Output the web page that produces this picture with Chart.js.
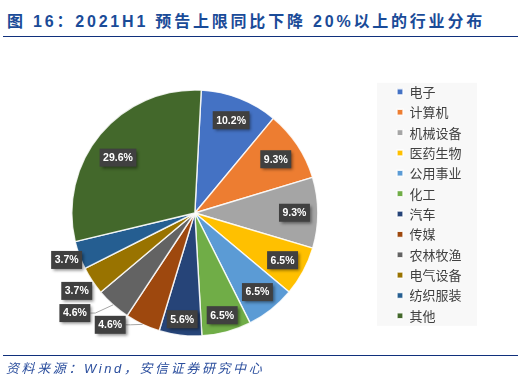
<!DOCTYPE html>
<html>
<head>
<meta charset="utf-8">
<script src="https://cdn.jsdelivr.net/npm/chart.js@4.4.0/dist/chart.umd.min.js"></script>
<style>
  body { margin: 0; background: #fff; }
  #wrap { position: relative; width: 524px; height: 385px; overflow: hidden; }
  #title { position: absolute; left: 7px; top: 8px; line-height: 25px; white-space: nowrap;
    font: bold 16px "Liberation Sans", "Noto Sans CJK SC", sans-serif; letter-spacing: 2.8px; color: #1a4b98; }
  .rule { position: absolute; left: 3px; width: 515px; height: 1.5px; background: #10307c; }
  #src { position: absolute; left: 6px; top: 358px; line-height: 20px; white-space: nowrap;
    font: italic 13px "Liberation Sans", "Noto Sans CJK SC", sans-serif; letter-spacing: 2.6px; color: #2c4f9e; }
  canvas { position: absolute; left: 0; top: 0; }
</style>
</head>
<body>
<div id="wrap">
  <div id="title">图 16：2021H1 预告上限同比下降 20%以上的行业分布</div>
  <div class="rule" style="top:35.5px"></div>
  <canvas id="myChart" width="524" height="385"></canvas>
  <div class="rule" style="top:354.5px"></div>
  <div id="src">资料来源：Wind，安信证券研究中心</div>
</div>
<script>
let industries = ["电子", "计算机", "机械设备", "医药生物", "公用事业", "化工", "汽车", "传媒", "农林牧渔", "电气设备", "纺织服装", "其他"];
let shares = [10.2, 9.3, 9.3, 6.5, 6.5, 6.5, 5.6, 4.6, 4.6, 3.7, 3.7, 29.6];
let sliceColors = ["#4472C4", "#ED7D31", "#A5A5A5", "#FFC000", "#5B9BD5", "#70AD47",
                   "#264478", "#9E480E", "#636363", "#997300", "#255E91", "#43682B"];

// where each value box sits: fraction of the radius, angle shift in degrees, leader line
let labelPlace = [
  {r: 0.81}, {r: 0.79}, {r: 0.81}, {r: 0.81}, {r: 0.82}, {r: 0.86}, {r: 0.87},
  {r: 1.14, da: 12, line: true}, {r: 1.27, da: 8.5, line: true}, {r: 1.15}, {r: 1.11}, {r: 0.77, da: -4}
];

const legendBack = {
  id: 'legendBack',
  beforeDraw(chart) {
    const hb = chart.legend.legendHitBoxes;
    if (!hb || !hb.length) return;
    const c = chart.ctx;
    const first = hb[0], last = hb[hb.length - 1];
    c.save();
    c.fillStyle = '#f8f8f8';
    c.fillRect(first.left - 20, first.top - 2.5, 100, last.top + last.height + 3.5 - (first.top - 2.5));
    c.restore();
  }
};

const pieLabels = {
  id: 'pieLabels',
  afterDatasetsDraw(chart) {
    const c = chart.ctx;
    const meta = chart.getDatasetMeta(0);
    c.save();
    c.font = 'bold 10.5px "Liberation Sans", sans-serif';
    meta.data.forEach((arc, i) => {
      const p = arc.getProps(['x', 'y', 'startAngle', 'endAngle', 'outerRadius'], true);
      const pl = labelPlace[i];
      const mid = (p.startAngle + p.endAngle) / 2;
      const a = mid + (pl.da || 0) * Math.PI / 180;
      const lx = p.x + Math.cos(a) * p.outerRadius * pl.r;
      const ly = p.y + Math.sin(a) * p.outerRadius * pl.r;
      const txt = shares[i].toFixed(1) + '%';
      const w = c.measureText(txt).width + 7, h = 18;
      if (pl.line) {
        const ex = p.x + Math.cos(mid) * p.outerRadius;
        const ey = p.y + Math.sin(mid) * p.outerRadius;
        c.strokeStyle = '#a6a6a6';
        c.lineWidth = 1;
        c.beginPath();
        c.moveTo(lx + w / 2, ly);
        c.lineTo(lx + w / 2 + 5, ly);
        c.lineTo(ex, ey);
        c.stroke();
      }
      c.shadowColor = 'rgba(0,0,0,0.45)';
      c.shadowBlur = 3;
      c.shadowOffsetX = 2;
      c.shadowOffsetY = 2;
      c.fillStyle = '#404040';
      c.fillRect(lx - w / 2, ly - h / 2, w, h);
      c.shadowColor = 'transparent';
      c.fillStyle = '#ffffff';
      c.textAlign = 'center';
      c.textBaseline = 'middle';
      c.fillText(txt, lx, ly + 0.5);
    });
    c.restore();
  }
};

let ctx = document.getElementById("myChart");
let myChart = new Chart(ctx, {
  type: 'pie',
  data: {
    labels: industries,
    datasets: [{
      data: shares,
      backgroundColor: sliceColors,
      borderColor: 'rgba(255,255,255,0.85)',
      borderWidth: 1.4,
      radius: 123
    }]
  },
  options: {
    responsive: false,
    animation: false,
    rotation: 3,
    layout: { padding: { top: 78, bottom: 37, left: 0, right: 52.5 } },
    plugins: {
      tooltip: { enabled: false },
      legend: {
        position: 'right',
        align: 'start',
        labels: {
          boxWidth: 6,
          boxHeight: 6,
          padding: 7.36,
          color: '#404040',
          font: { size: 13, family: '"Noto Sans CJK SC", sans-serif' }
        }
      }
    }
  },
  plugins: [legendBack, pieLabels]
});
</script>
</body>
</html>
